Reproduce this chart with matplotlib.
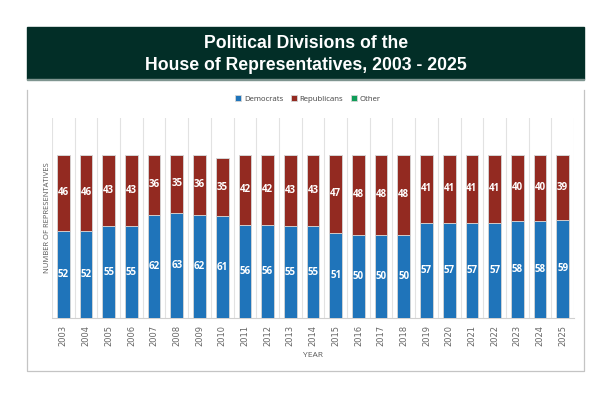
import numpy as np
import matplotlib
matplotlib.use('Agg')
import matplotlib.pyplot as plt
from matplotlib.patches import Rectangle
from matplotlib.lines import Line2D

# data
years = [str(y) for y in range(2003, 2026)]
democrats = [52, 52, 55, 55, 62, 63, 62, 61, 56, 56, 55, 55, 51, 50, 50, 50,
             57, 57, 57, 57, 58, 58, 59]
republicans = [46, 46, 43, 43, 36, 35, 36, 35, 42, 42, 43, 43, 47, 48, 48, 48,
               41, 41, 41, 41, 40, 40, 39]
other = [0] * len(years)

blue = '#1f74ba'
red = '#932a21'
green = '#0f9d58'
banner = '#022e27'

fig = plt.figure(figsize=(6.12, 3.96), dpi=100)

# title banner
fig.patches.append(Rectangle((27 / 612, 1 - 79 / 396), 557 / 612, 52 / 396,
                             transform=fig.transFigure, color=banner, zorder=0))
fig.patches.append(Rectangle((27 / 612, 1 - 80 / 396), 557 / 612, 1.2 / 396,
                             transform=fig.transFigure, color='#7f9590', zorder=0))
fig.text(0.5, 1 - 43 / 396, 'Political Divisions of the', ha='center', va='center',
         color='white', fontsize=12.7, fontweight='bold', family='Liberation Sans')
fig.text(0.5, 1 - 66 / 396, 'House of Representatives, 2003 - 2025', ha='center',
         va='center', color='white', fontsize=12.7, fontweight='bold',
         family='Liberation Sans')

# chart frame (no top edge)
fx = [27 / 612, 27 / 612, 584 / 612, 584 / 612]
fy = [1 - 90 / 396, 1 - 371 / 396, 1 - 371 / 396, 1 - 90 / 396]
fig.lines.append(Line2D(fx, fy, transform=fig.transFigure, color='#c4c4c4',
                        linewidth=0.9))

ax = fig.add_axes([52 / 612, 1 - 318 / 396, 522 / 612, 200 / 396])
x = np.arange(len(years))
w = 0.56
kw = dict(width=w, edgecolor='#d6d6d6', linewidth=0.6, zorder=3)
ax.bar(x, democrats, color=blue, label='Democrats', **kw)
ax.bar(x, republicans, bottom=democrats, color=red, label='Republicans', **kw)
ax.bar(x, other, bottom=np.add(democrats, republicans), color=green, label='Other', **kw)

for i in range(len(years)):
    d, r = democrats[i], republicans[i]
    ax.text(x[i], d / 2, str(d), ha='center', va='center', color='white',
            fontsize=7, fontweight='bold', family='Open Sans', zorder=4)
    ax.text(x[i], d + r / 2, str(r), ha='center', va='center', color='white',
            fontsize=7, fontweight='bold', family='Open Sans', zorder=4)

ax.set_xlim(-0.5, len(years) - 0.5)
ax.set_ylim(0, 120)
for b in np.arange(-0.5, len(years), 1):
    ax.axvline(b, color='#e2e2e2', linewidth=0.8, zorder=1)

for s in ['top', 'right', 'left']:
    ax.spines[s].set_visible(False)
ax.spines['bottom'].set_color('#d0d0d0')
ax.set_yticks([])
ax.set_xticks(x)
ax.set_xticklabels(years, rotation=90, fontsize=6, color='#666666',
                   family='DejaVu Sans')
ax.tick_params(axis='x', length=0, pad=5)

ax.set_ylabel('NUMBER OF REPRESENTATIVES', fontsize=5.5, color='#595959',
              family='Open Sans', labelpad=1)
ax.set_xlabel('YEAR', fontsize=6, color='#595959', family='Open Sans', labelpad=4)

ax.legend(loc='center', bbox_to_anchor=(0.49, 1.095),
          ncol=3, frameon=False, handlelength=0.8, handleheight=0.8,
          columnspacing=1.0, handletextpad=0.3,
          prop={'family': 'Open Sans', 'size': 5.6}, labelcolor='#404040')

fig.savefig('out.png', dpi=100)
